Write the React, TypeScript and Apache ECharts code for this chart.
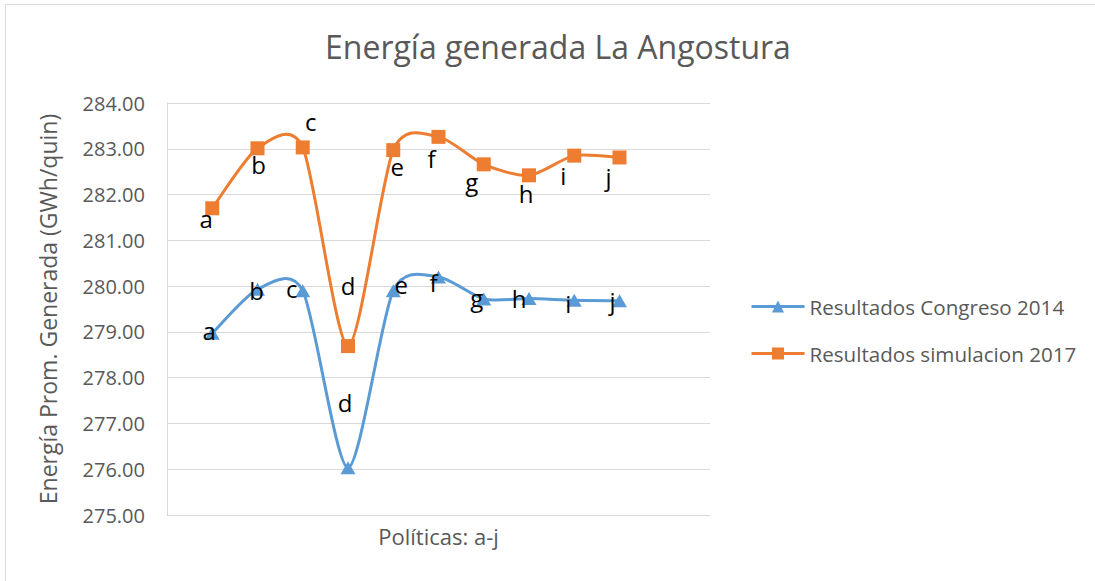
import React, { useEffect, useRef } from "react";
import * as echarts from "echarts";

const categories = ["a", "b", "c", "d", "e", "f", "g", "h", "i", "j"];
const xPositions = [1, 2, 3, 4, 5, 6, 7, 8, 9, 10];
const congreso2014 = [278.97, 279.93, 279.9, 276.03, 279.9, 280.2, 279.72, 279.73, 279.69, 279.68];
const simulacion2017 = [281.7, 283.01, 283.03, 278.69, 282.97, 283.26, 282.66, 282.42, 282.85, 282.81];
const yTicks = { min: 275, max: 284, interval: 1 };

const congresoLabelOffsets = [
  [-3, -3], [-1, 1], [-11, -2], [-3, -65], [8, -6], [-5, 6], [-7, -1], [-10, 0], [-6, 3], [-7, 0],
];
const simulacionLabelOffsets = [
  [-6, 10], [1, 16], [8, -26], [0, -61], [4, 16], [-7, 22], [-12, 17], [-3, 18], [-11, 20], [-11, 19],
];

const BLUE = "#5B9BD5";
const ORANGE = "#ED7D31";
const FONT = "'Open Sans', Lato, sans-serif";

function buildData(values: number[], offsets: number[][]) {
  return values.map((v, i) => ({
    value: [xPositions[i], v],
    name: categories[i],
    label: { offset: offsets[i] },
  }));
}

// Excel-like smoothed line (cardinal spline -> cubic Bezier), drawn through the axis scales
function splineSeries(values: number[], color: string) {
  return {
    type: "custom",
    silent: true,
    z: 1,
    data: values.map((v, i) => [xPositions[i], v]),
    encode: { x: 0, y: 1 },
    renderItem: (params: any, api: any) => {
      if (params.dataIndex !== 0) return null;
      const pts = values.map((v, i) => api.coord([xPositions[i], v]));
      const n = pts.length;
      let d = `M${pts[0][0]},${pts[0][1]}`;
      const t = 0.13;
      for (let i = 0; i < n - 1; i++) {
        const p0 = pts[Math.max(i - 1, 0)];
        const p1 = pts[i];
        const p2 = pts[i + 1];
        const p3 = pts[Math.min(i + 2, n - 1)];
        const c1x = p1[0] + (p2[0] - p0[0]) * t;
        const c1y = p1[1] + (p2[1] - p0[1]) * t;
        const c2x = p2[0] - (p3[0] - p1[0]) * t;
        const c2y = p2[1] - (p3[1] - p1[1]) * t;
        d += ` C${c1x},${c1y} ${c2x},${c2y} ${p2[0]},${p2[1]}`;
      }
      return {
        type: "path",
        shape: { pathData: d },
        style: { stroke: color, lineWidth: 3, fill: "none", lineJoin: "round", lineCap: "round" },
      };
    },
  };
}

export default function App() {
  const ref = useRef<HTMLDivElement>(null);
  useEffect(() => {
    if (!ref.current) return;
    const chart = echarts.init(ref.current, undefined, { renderer: "svg" });
    const labelCommon = {
      show: true,
      position: "inside",
      align: "center",
      verticalAlign: "middle",
      fontSize: 24,
      fontFamily: FONT,
      color: "#000000",
      formatter: (p: any) => p.name,
    };
    chart.setOption({
      animation: false,
      backgroundColor: "#ffffff",
      title: {
        text: "Energía generada La Angostura",
        left: 320,
        top: 25,
        textStyle: { fontSize: 32, fontWeight: "normal", color: "#595959", fontFamily: FONT },
      },
      graphic: [
        { type: "line", shape: { x1: 5.5, y1: 4.5, x2: 1095, y2: 4.5 }, style: { stroke: "#d9d9d9", lineWidth: 1 } },
        { type: "line", shape: { x1: 5.5, y1: 4.5, x2: 5.5, y2: 581 }, style: { stroke: "#d9d9d9", lineWidth: 1 } },
      ],
      legend: {
        orient: "vertical",
        left: 750,
        top: 296,
        padding: 0,
        itemWidth: 53,
        itemHeight: 15,
        itemGap: 26,
        lineStyle: { opacity: 1, width: 3 },
        textStyle: { fontSize: 20.6, lineHeight: 20, color: "#595959", fontFamily: FONT },
        data: ["Resultados Congreso 2014", "Resultados simulacion 2017"],
      },
      grid: { left: 167, right: 385, top: 103, bottom: 66, containLabel: false },
      xAxis: {
        type: "value",
        min: 0,
        max: 12,
        name: "Políticas: a-j",
        nameLocation: "middle",
        nameGap: 10,
        nameTextStyle: { fontSize: 22, color: "#595959", fontFamily: FONT },
        axisLine: { show: true, lineStyle: { color: "#d9d9d9", width: 1 } },
        axisTick: { show: false },
        axisLabel: { show: false },
        splitLine: { show: false },
      },
      yAxis: {
        type: "value",
        min: yTicks.min,
        max: yTicks.max,
        interval: yTicks.interval,
        name: "Energía Prom. Generada (GWh/quin)",
        nameLocation: "middle",
        nameGap: 108,
        nameTextStyle: { fontSize: 23, color: "#595959", fontFamily: FONT },
        axisLine: { show: true, lineStyle: { color: "#d9d9d9", width: 1 } },
        axisTick: { show: false },
        axisLabel: {
          formatter: (v: number) => v.toFixed(2),
          fontSize: 20,
          color: "#595959",
          fontFamily: FONT,
          margin: 22,
        },
        splitLine: { show: true, lineStyle: { color: "#d9d9d9", width: 1 } },
      },
      series: [
        splineSeries(congreso2014, BLUE),
        splineSeries(simulacion2017, ORANGE),
        {
          name: "Resultados Congreso 2014",
          type: "line",
          symbol: "triangle",
          symbolSize: [15, 13],
          lineStyle: { color: BLUE, width: 3, opacity: 0 },
          itemStyle: { color: BLUE },
          label: labelCommon,
          data: buildData(congreso2014, congresoLabelOffsets),
          z: 2,
        },
        {
          name: "Resultados simulacion 2017",
          type: "line",
          symbol: "rect",
          symbolSize: 14,
          lineStyle: { color: ORANGE, width: 3, opacity: 0 },
          itemStyle: { color: ORANGE },
          label: labelCommon,
          data: buildData(simulacion2017, simulacionLabelOffsets),
          z: 3,
        },
      ],
    });
    return () => chart.dispose();
  }, []);
  return (
    <div
      ref={ref}
      style={{ position: "absolute", left: 0, top: 0, width: 1095, height: 581 }}
    />
  );
}
